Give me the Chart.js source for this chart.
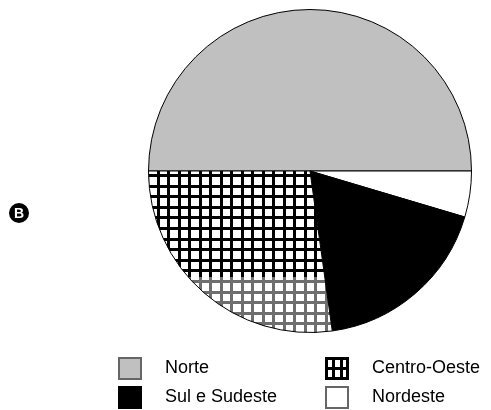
<!DOCTYPE html>
<html>
<head>
<meta charset="utf-8">
<script src="https://cdn.jsdelivr.net/npm/chart.js@4.4.0/dist/chart.umd.min.js"></script>
<style>
    html, body { margin: 0; padding: 0; background: #fff; }
    #wrap { position: relative; width: 491px; height: 410px; overflow: hidden; }
    #chart { position: absolute; left: 0; top: 0; }
    .marker {
        position: absolute; left: 9px; top: 203px; width: 20px; height: 20px;
        border-radius: 50%; background: #000; color: #fff;
        font: bold 14px "Liberation Sans", Arial, sans-serif;
        text-align: center; line-height: 20px;
    }
    .item { position: absolute; height: 23px; }
    .item canvas { position: absolute; left: 0; top: 0; }
    .item span {
        position: absolute; top: 0; line-height: 24px; white-space: nowrap;
        font: 18px "Liberation Sans", Arial, sans-serif; color: #000;
    }
</style>
</head>
<body>
<div id="wrap">
    <canvas id="chart" width="491" height="410"></canvas>
    <div class="marker">B</div>
</div>
<script>
    // dados do gráfico (sentido horário a partir das 9 horas)
    const labels = ['Norte', 'Nordeste', 'Sul e Sudeste', 'Centro-Oeste'];
    const values = [50, 4.6, 18.2, 27.2];
    // ordem da legenda: coluna 1 e depois coluna 2
    const legendOrder = ['Norte', 'Sul e Sudeste', 'Centro-Oeste', 'Nordeste'];

    // textura quadriculada do Centro-Oeste (preta em cima, cinza embaixo)
    function makeGrid(w, h, darkUntil) {
        const c = document.createElement('canvas');
        c.width = w;
        c.height = h;
        const g = c.getContext('2d');
        g.fillStyle = '#fff';
        g.fillRect(0, 0, w, h);
        for (let y = 0; y < h; y++) {
            const col = y < darkUntil ? '#000' : '#6e6e6e';
            g.fillStyle = col;
            // linhas verticais: uma grossa e uma fina a cada 21px
            g.fillRect(10, y, 3, 1);
            g.fillRect(0, y, 2, 1);
            g.fillRect(20, y, 1, 1);
        }
        for (let y = 175 - 10.6 * 17; y < h; y += 10.6) {
            g.fillStyle = y < darkUntil ? '#000' : '#6e6e6e';
            g.fillRect(0, Math.round(y) - 1, w, 3);
        }
        return c;
    }

    const ctx = document.getElementById('chart').getContext('2d');
    const gridPattern = ctx.createPattern(makeGrid(21, 410, 277), 'repeat');

    const colors = {
        'Norte': '#c0c0c0',
        'Nordeste': '#ffffff',
        'Sul e Sudeste': '#000000',
        'Centro-Oeste': gridPattern
    };

    new Chart(ctx, {
        type: 'pie',
        data: {
            labels: labels,
            datasets: [{
                data: values,
                backgroundColor: labels.map(l => colors[l]),
                borderColor: '#000',
                borderWidth: 1
            }]
        },
        options: {
            responsive: false,
            animation: false,
            rotation: -90,
            layout: { padding: { left: 148, right: 19, top: 9, bottom: 77 } },
            plugins: {
                legend: { display: false },
                tooltip: { enabled: false }
            }
        }
    });

    // legenda em duas colunas
    const wrap = document.getElementById('wrap');
    const cols = [118, 325];
    const rows = [357, 386];
    legendOrder.forEach((name, i) => {
        const item = document.createElement('div');
        item.className = 'item';
        item.style.left = cols[Math.floor(i / 2)] + 'px';
        item.style.top = rows[i % 2] + 'px';

        const box = document.createElement('canvas');
        box.width = 24;
        box.height = 23;
        const b = box.getContext('2d');
        if (name === 'Centro-Oeste') {
            b.fillStyle = '#fff';
            b.fillRect(0, 0, 24, 23);
            b.fillStyle = '#000';
            [0, 7, 15, 21].forEach(x => b.fillRect(x, 0, 3, 23));
            [0, 10, 20].forEach(y => b.fillRect(0, y, 24, 3));
        } else {
            b.fillStyle = colors[name];
            b.fillRect(0, 0, 24, 23);
            b.strokeStyle = name === 'Sul e Sudeste' ? '#000' : '#666';
            b.lineWidth = 2;
            b.strokeRect(1, 1, 22, 21);
        }
        item.appendChild(box);

        const text = document.createElement('span');
        text.style.left = '47px';
        text.textContent = name;
        item.appendChild(text);
        wrap.appendChild(item);
    });
</script>
</body>
</html>
